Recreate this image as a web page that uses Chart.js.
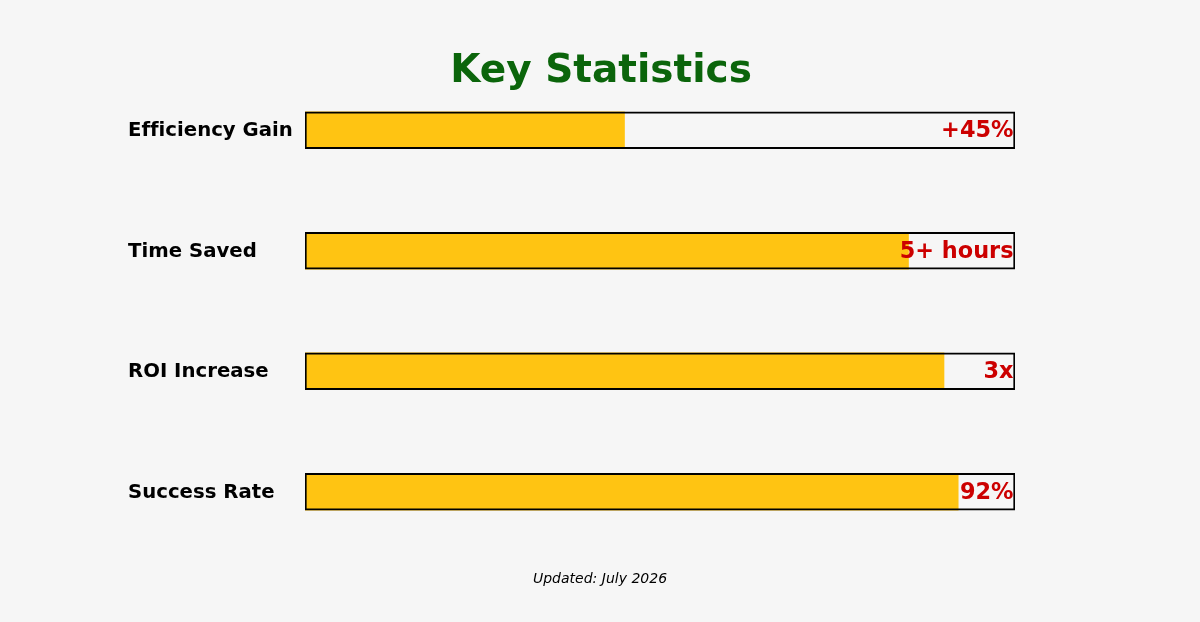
<!DOCTYPE html>
<html>
<head>
<meta charset="utf-8">
<script src="https://cdn.jsdelivr.net/npm/chart.js@4"></script>
<style>
  html, body { margin: 0; padding: 0; background: #f6f6f6; }
  #wrap { width: 1200px; height: 622px; position: relative; }
</style>
</head>
<body>
<div id="wrap"><canvas id="myChart" width="1200" height="622"></canvas></div>
<script>
// chart data
const categories = ['Efficiency Gain', 'Time Saved', 'ROI Increase', 'Success Rate'];
const fillValues = [45, 85, 90, 92];
const trackValues = [100, 100, 100, 100];
const valueLabels = ['+45%', '5+ hours', '3x', '92%'];
const titleText = 'Key Statistics';
const footerText = 'Updated: July 2026';

const FONT = '"DejaVu Sans", sans-serif';

// draws title, footer, category names and value text
const textPlugin = {
  id: 'textPlugin',
  afterDatasetsDraw(chart) {
    const c = chart.ctx;
    const y = chart.scales.y;
    const x = chart.scales.x;
    c.save();
    c.textBaseline = 'middle';
    c.letterSpacing = '0.01px'; // no ligatures

    c.font = 'bold 39px ' + FONT;
    c.fillStyle = '#0b650b';
    c.textAlign = 'center';
    c.fillText(titleText, 601, 72);

    c.font = 'italic 14px ' + FONT;
    c.fillStyle = '#000';
    c.fillText(footerText, 600, 579);

    categories.forEach(function(cat, i) {
      const py = y.getPixelForValue(i);
      c.font = 'bold 19.7px ' + FONT;
      c.fillStyle = '#000';
      c.textAlign = 'left';
      c.fillText(cat, 128, py + 1);

      c.font = 'bold 22.4px ' + FONT;
      c.fillStyle = '#cc0000';
      c.textAlign = 'right';
      c.fillText(valueLabels[i], x.getPixelForValue(100) - 1.5, py + 1);
    });
    c.restore();
  }
};

new Chart(document.getElementById('myChart'), {
  type: 'bar',
  data: {
    labels: categories,
    datasets: [{
      data: trackValues,
      backgroundColor: 'rgba(0,0,0,0)',
      borderColor: '#000',
      borderWidth: 1.3,
      borderSkipped: false,
      barThickness: 37
    }, {
      data: fillValues,
      backgroundColor: '#ffc412',
      borderWidth: 0,
      barThickness: 37
    }]
  },
  options: {
    indexAxis: 'y',
    responsive: false,
    animation: false,
    grouped: false,
    layout: { padding: { left: 305, right: 185, top: 70, bottom: 70 } },
    scales: {
      x: { display: false, min: 0, max: 100 },
      y: { display: false }
    },
    plugins: {
      legend: { display: false },
      tooltip: { enabled: false }
    }
  },
  plugins: [textPlugin]
});
</script>
</body>
</html>
